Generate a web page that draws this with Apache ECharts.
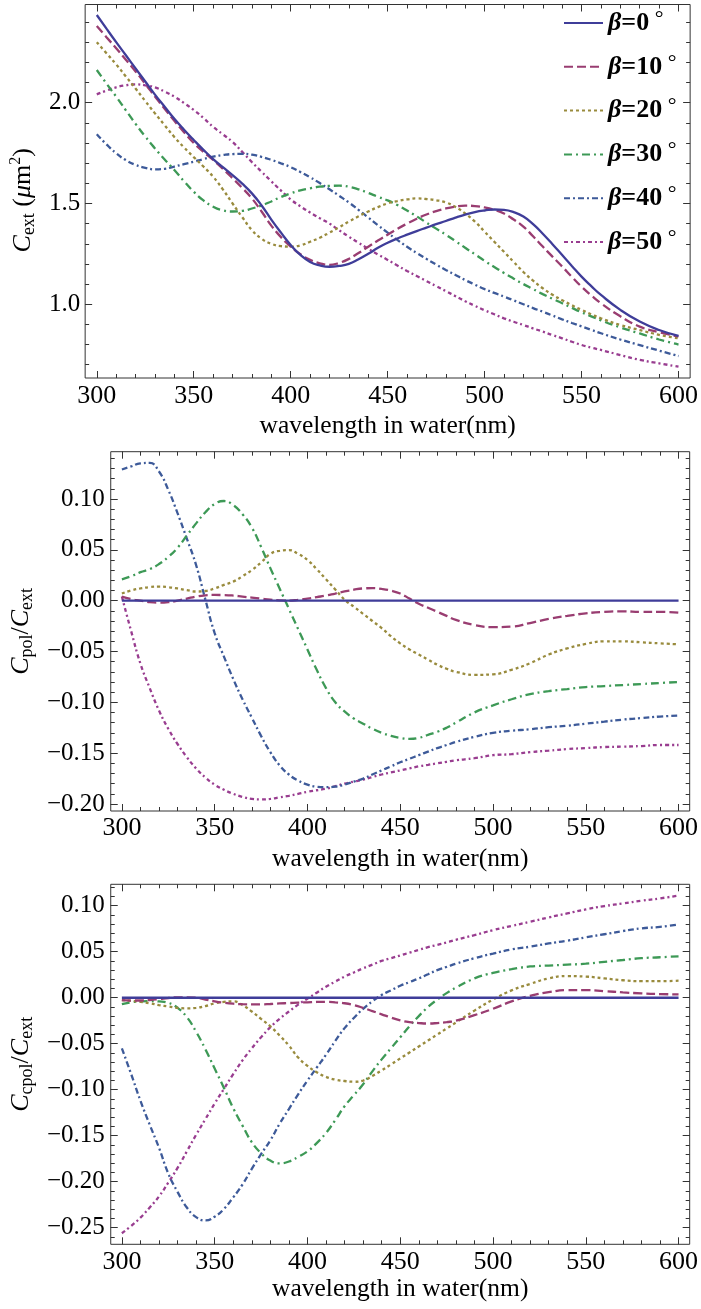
<!DOCTYPE html>
<html>
<head>
<meta charset="utf-8">
<script src="https://cdn.jsdelivr.net/npm/echarts@6/dist/echarts.min.js"></script>
<style>
  html, body { margin: 0; padding: 0; background: #fff; }
  #chart { width: 701px; height: 1309px; }
</style>
</head>
<body>
<div id="chart"></div>
<script>
// Wavelength in water (nm): 5 nm steps where the curves bend, 10 nm steps in the smooth tails
const wavelengthExt = [300, 305, 310, 315, 320, 325, 330, 335, 340, 345,
                       350, 355, 360, 365, 370, 375, 380, 385, 390, 395,
                       400, 405, 410, 415, 420, 425, 430, 435, 440, 445,
                       450, 455, 460, 465, 470, 475, 480, 485, 490, 495,
                       500, 505, 510, 515, 520, 525, 530, 535, 540, 545,
                       550, 555, 560, 570, 580, 590, 600];
const wavelengthFine = [300, 305, 310, 315, 320, 325, 330, 335, 340, 345,
                        350, 355, 360, 365, 370, 375, 380, 385, 390, 395,
                        400, 405, 410, 415, 420, 425, 430, 435, 440, 445,
                        450, 455, 460, 465, 470, 475, 480,
                        490, 500, 510, 520, 530, 540, 550, 560, 570, 580, 590, 600];

const betaNames = ['β=0 °', 'β=10 °', 'β=20 °', 'β=30 °', 'β=40 °', 'β=50 °'];

// Panel 1: extinction cross section C_ext (µm²), on wavelengthExt
const ext_b0  = [2.435, 2.367, 2.30, 2.235, 2.17, 2.105, 2.04, 1.98, 1.92, 1.866,
                 1.815, 1.766, 1.72, 1.68, 1.64, 1.598, 1.55, 1.49, 1.42, 1.355,
                 1.294, 1.245, 1.21, 1.193, 1.186, 1.19, 1.20, 1.223, 1.25, 1.28,
                 1.305, 1.326, 1.345, 1.363, 1.38, 1.397, 1.413, 1.43, 1.445, 1.457,
                 1.465, 1.47, 1.468, 1.457, 1.435, 1.397, 1.35, 1.298, 1.244, 1.19,
                 1.137, 1.09, 1.046, 0.972, 0.914, 0.872, 0.843];
const ext_b10 = [2.38, 2.325, 2.27, 2.213, 2.155, 2.093, 2.03, 1.97, 1.91, 1.853,
                 1.80, 1.756, 1.716, 1.672, 1.625, 1.577, 1.525, 1.46, 1.39, 1.333,
                 1.286, 1.248, 1.22, 1.203, 1.195, 1.205, 1.225, 1.254, 1.285, 1.316,
                 1.345, 1.374, 1.40, 1.424, 1.445, 1.462, 1.475, 1.484, 1.489, 1.487,
                 1.48, 1.468, 1.45, 1.42, 1.385, 1.337, 1.286, 1.236, 1.187, 1.136,
                 1.087, 1.044, 1.005, 0.94, 0.889, 0.861, 0.84];
const ext_b20 = [2.30, 2.245, 2.19, 2.13, 2.07, 2.008, 1.947, 1.888, 1.83, 1.778,
                 1.73, 1.683, 1.633, 1.57, 1.50, 1.432, 1.368, 1.325, 1.30, 1.288,
                 1.286, 1.292, 1.31, 1.33, 1.355, 1.382, 1.41, 1.436, 1.46, 1.482,
                 1.50, 1.512, 1.52, 1.525, 1.522, 1.516, 1.505, 1.482, 1.45, 1.41,
                 1.36, 1.31, 1.26, 1.21, 1.16, 1.117, 1.079, 1.047, 1.02, 0.995,
                 0.972, 0.95, 0.93, 0.897, 0.872, 0.848, 0.831];
const ext_b30 = [2.162, 2.095, 2.03, 1.962, 1.895, 1.832, 1.773, 1.718, 1.666, 1.61,
                 1.558, 1.515, 1.484, 1.466, 1.46, 1.463, 1.475, 1.49, 1.51, 1.532,
                 1.55, 1.565, 1.575, 1.583, 1.587, 1.588, 1.583, 1.57, 1.552, 1.533,
                 1.515, 1.492, 1.465, 1.436, 1.405, 1.375, 1.345, 1.313, 1.28, 1.248,
                 1.215, 1.185, 1.155, 1.127, 1.10, 1.075, 1.05, 1.027, 1.005, 0.982,
                 0.96, 0.94, 0.92, 0.885, 0.855, 0.825, 0.80];
const ext_b40 = [1.843, 1.793, 1.749, 1.715, 1.691, 1.677, 1.669, 1.672, 1.683, 1.695,
                 1.707, 1.72, 1.732, 1.74, 1.745, 1.746, 1.742, 1.731, 1.716, 1.699,
                 1.68, 1.656, 1.63, 1.601, 1.57, 1.538, 1.505, 1.468, 1.43, 1.392,
                 1.355, 1.319, 1.285, 1.254, 1.225, 1.197, 1.17, 1.145, 1.12, 1.097,
                 1.075, 1.056, 1.038, 1.019, 1.0, 0.981, 0.963, 0.944, 0.925, 0.907,
                 0.89, 0.873, 0.856, 0.825, 0.797, 0.77, 0.743];
const ext_b50 = [2.041, 2.06, 2.076, 2.086, 2.091, 2.086, 2.076, 2.055, 2.03, 1.998,
                 1.964, 1.924, 1.88, 1.843, 1.805, 1.756, 1.705, 1.657, 1.61, 1.564,
                 1.52, 1.486, 1.455, 1.427, 1.40, 1.367, 1.335, 1.305, 1.275, 1.247,
                 1.22, 1.192, 1.165, 1.14, 1.115, 1.09, 1.065, 1.04, 1.015, 0.992,
                 0.97, 0.95, 0.93, 0.913, 0.897, 0.88, 0.864, 0.847, 0.831, 0.814,
                 0.798, 0.785, 0.773, 0.748, 0.724, 0.707, 0.69];

// Panel 2: C_pol / C_ext, on wavelengthFine
const pol_b0  = [0, 0, 0, 0, 0, 0, 0, 0, 0, 0, 0, 0, 0, 0, 0, 0, 0, 0, 0, 0, 0, 0, 0, 0, 0,
                 0, 0, 0, 0, 0, 0, 0, 0, 0, 0, 0, 0, 0, 0, 0, 0, 0, 0, 0, 0, 0, 0, 0, 0];
const pol_b10 = [0.004, 0.0015, 0.0, -0.0015, -0.002, -0.0015, 0.0, 0.002, 0.004, 0.0052,
                 0.0056, 0.0055, 0.005, 0.004, 0.003, 0.002, 0.001, 0.0003, 0.0, 0.0008,
                 0.002, 0.0035, 0.005, 0.007, 0.009, 0.0108, 0.012, 0.0123, 0.0115, 0.0098,
                 0.007, 0.002, -0.003, -0.007, -0.011, -0.015, -0.019,
                 -0.024, -0.026, -0.0256, -0.022, -0.018, -0.015, -0.0125, -0.011, -0.0105, -0.011, -0.011, -0.0118];
const pol_b20 = [0.007, 0.010, 0.012, 0.0133, 0.0138, 0.0132, 0.012, 0.0103, 0.009, 0.0095,
                 0.012, 0.0155, 0.0187, 0.024, 0.030, 0.0375, 0.046, 0.049, 0.0497, 0.046,
                 0.040, 0.031, 0.021, 0.011, 0.001, -0.006, -0.013, -0.020, -0.027, -0.035,
                 -0.042, -0.048, -0.053, -0.058, -0.063, -0.067, -0.070,
                 -0.073, -0.0725, -0.068, -0.0616, -0.053, -0.047, -0.0426, -0.040, -0.040, -0.041, -0.042, -0.043];
const pol_b30 = [0.021, 0.024, 0.028, 0.031, 0.036, 0.043, 0.052, 0.064, 0.076, 0.087,
                 0.095, 0.098, 0.094, 0.085, 0.072, 0.053, 0.032, 0.012, -0.008, -0.028,
                 -0.048, -0.068, -0.086, -0.100, -0.109, -0.116, -0.121, -0.126, -0.130, -0.133,
                 -0.135, -0.136, -0.135, -0.132, -0.129, -0.125, -0.120,
                 -0.110, -0.103, -0.097, -0.092, -0.089, -0.087, -0.085, -0.084, -0.083, -0.082, -0.081, -0.080];
const pol_b40 = [0.129, 0.132, 0.135, 0.1355, 0.127, 0.109, 0.086, 0.061, 0.035, 0.001,
                 -0.032, -0.055, -0.077, -0.097, -0.115, -0.133, -0.149, -0.162, -0.171, -0.177,
                 -0.181, -0.183, -0.1835, -0.183, -0.181, -0.178, -0.175, -0.171, -0.167, -0.163,
                 -0.159, -0.1555, -0.152, -0.1485, -0.145, -0.142, -0.139,
                 -0.134, -0.130, -0.128, -0.1265, -0.1245, -0.123, -0.121, -0.119, -0.117, -0.1155, -0.114, -0.113];
const pol_b50 = [0.004, -0.030, -0.062, -0.086, -0.108, -0.126, -0.141, -0.154, -0.165, -0.174,
                 -0.181, -0.186, -0.190, -0.193, -0.195, -0.1955, -0.195, -0.1935, -0.192, -0.190,
                 -0.188, -0.1865, -0.185, -0.1825, -0.180, -0.178, -0.176, -0.1735, -0.171, -0.169,
                 -0.167, -0.165, -0.163, -0.1615, -0.160, -0.1585, -0.157,
                 -0.155, -0.152, -0.151, -0.149, -0.1475, -0.146, -0.145, -0.144, -0.1436, -0.143, -0.142, -0.142];

// Panel 3: C_cpol / C_ext, on wavelengthFine
const cpol_b0  = [0, 0, 0, 0, 0, 0, 0, 0, 0, 0, 0, 0, 0, 0, 0, 0, 0, 0, 0, 0, 0, 0, 0, 0, 0,
                  0, 0, 0, 0, 0, 0, 0, 0, 0, 0, 0, 0, 0, 0, 0, 0, 0, 0, 0, 0, 0, 0, 0, 0];
const cpol_b10 = [-0.0025, -0.003, -0.003, -0.0025, -0.0015, -0.0003, 0.0005, 0.0005, 0.0, -0.002,
                  -0.004, -0.0055, -0.0065, -0.007, -0.0072, -0.0072, -0.0068, -0.0062, -0.0058, -0.0053,
                  -0.005, -0.0046, -0.0045, -0.005, -0.006, -0.008, -0.011, -0.0145, -0.018, -0.0215,
                  -0.0245, -0.0265, -0.0275, -0.028, -0.0275, -0.0265, -0.025,
                  -0.019, -0.012, -0.004, 0.002, 0.006, 0.0083, 0.0083, 0.0072, 0.0058, 0.0047, 0.004, 0.0036];
const cpol_b20 = [-0.0025, -0.0035, -0.0045, -0.006, -0.008, -0.0095, -0.011, -0.0115, -0.011, -0.009,
                  -0.006, -0.0045, -0.004, -0.008, -0.015, -0.023, -0.031, -0.041, -0.052, -0.065,
                  -0.074, -0.081, -0.086, -0.089, -0.0905, -0.0913, -0.090, -0.085, -0.079, -0.0725,
                  -0.066, -0.0595, -0.053, -0.0465, -0.040, -0.0335, -0.027,
                  -0.014, -0.002, 0.008, 0.015, 0.021, 0.0235, 0.023, 0.021, 0.019, 0.018, 0.018, 0.0185];
const cpol_b30 = [-0.007, -0.005, -0.004, -0.0036, -0.004, -0.0055, -0.011, -0.021, -0.037, -0.056,
                  -0.077, -0.098, -0.120, -0.139, -0.157, -0.169, -0.177, -0.180, -0.178, -0.173,
                  -0.167, -0.158, -0.147, -0.133, -0.118, -0.106, -0.094, -0.080, -0.067, -0.055,
                  -0.043, -0.031, -0.020, -0.010, -0.002, 0.005, 0.011,
                  0.021, 0.027, 0.031, 0.034, 0.035, 0.036, 0.037, 0.039, 0.041, 0.043, 0.044, 0.045];
const cpol_b40 = [-0.055, -0.083, -0.112, -0.138, -0.163, -0.191, -0.211, -0.228, -0.2385, -0.242,
                  -0.238, -0.2295, -0.217, -0.203, -0.186, -0.170, -0.155, -0.137, -0.121, -0.105,
                  -0.090, -0.076, -0.062, -0.047, -0.033, -0.022, -0.012, -0.004, 0.003, 0.008,
                  0.013, 0.017, 0.021, 0.0255, 0.030, 0.0335, 0.037,
                  0.043, 0.048, 0.0525, 0.0555, 0.059, 0.062, 0.0656, 0.069, 0.0725, 0.0754, 0.077, 0.0797];
const cpol_b50 = [-0.256, -0.248, -0.239, -0.228, -0.216, -0.201, -0.185, -0.167, -0.149, -0.132,
                  -0.115, -0.099, -0.083, -0.068, -0.055, -0.043, -0.032, -0.023, -0.015, -0.0075,
                  -0.001, 0.0055, 0.012, 0.0175, 0.023, 0.0275, 0.032, 0.036, 0.040, 0.043,
                  0.046, 0.049, 0.052, 0.055, 0.0575, 0.060, 0.063,
                  0.068, 0.0735, 0.078, 0.0826, 0.0873, 0.0917, 0.096, 0.0996, 0.1025, 0.1054, 0.108, 0.111];

// Tick positions (labelled majors and unlabelled minors)
const xMajorTicks = [300, 350, 400, 450, 500, 550, 600];
const xMinorTicks = [300, 310, 320, 330, 340, 350, 360, 370, 380, 390, 400, 410, 420, 430, 440, 450,
                     460, 470, 480, 490, 500, 510, 520, 530, 540, 550, 560, 570, 580, 590, 600];
const extMajorTicks = [1.0, 1.5, 2.0];
const extMinorTicks = [0.7, 0.8, 0.9, 1.0, 1.1, 1.2, 1.3, 1.4, 1.5, 1.6, 1.7, 1.8, 1.9, 2.0, 2.1, 2.2, 2.3, 2.4];
const polMajorTicks = [-0.20, -0.15, -0.10, -0.05, 0.00, 0.05, 0.10];
const polMinorTicks = [-0.20, -0.19, -0.18, -0.17, -0.16, -0.15, -0.14, -0.13, -0.12, -0.11, -0.10, -0.09, -0.08, -0.07, -0.06,
                       -0.05, -0.04, -0.03, -0.02, -0.01, 0.00, 0.01, 0.02, 0.03, 0.04, 0.05, 0.06, 0.07, 0.08, 0.09, 0.10,
                       0.11, 0.12, 0.13, 0.14];
const cpolMajorTicks = [-0.25, -0.20, -0.15, -0.10, -0.05, 0.00, 0.05, 0.10];
const cpolMinorTicks = [-0.26, -0.25, -0.24, -0.23, -0.22, -0.21, -0.20, -0.19, -0.18, -0.17, -0.16, -0.15, -0.14, -0.13, -0.12,
                        -0.11, -0.10, -0.09, -0.08, -0.07, -0.06, -0.05, -0.04, -0.03, -0.02, -0.01, 0.00, 0.01, 0.02, 0.03,
                        0.04, 0.05, 0.06, 0.07, 0.08, 0.09, 0.10, 0.11, 0.12];

const panels = [
  { x: wavelengthExt, series: [ext_b0, ext_b10, ext_b20, ext_b30, ext_b40, ext_b50], yMin: 0.634, yMax: 2.487,
    yMajor: extMajorTicks, yMinor: extMinorTicks, digits: 1 },
  { x: wavelengthFine, series: [pol_b0, pol_b10, pol_b20, pol_b30, pol_b40, pol_b50], yMin: -0.2069, yMax: 0.1465,
    yMajor: polMajorTicks, yMinor: polMinorTicks, digits: 2 },
  { x: wavelengthFine, series: [cpol_b0, cpol_b10, cpol_b20, cpol_b30, cpol_b40, cpol_b50], yMin: -0.268, yMax: 0.1233,
    yMajor: cpolMajorTicks, yMinor: cpolMinorTicks, digits: 2 }
];

const X_MIN = 294, X_MAX = 606;
const SERIF = 'Liberation Serif';
const FRAME = '#333333';
const colors = ['#3f3d99', '#993d71', '#998b3d', '#3d9956', '#3d5a99', '#993d90'];
const dashes = ['solid', [9, 4], [3, 3], [8, 4, 2, 4], [6, 3, 2, 3], [4, 3, 2, 3]];

const grids = [
  { left: 85,    top: 4.5,   width: 605.7, height: 373.5 },
  { left: 108.3, top: 451.7, width: 582,   height: 359.3 },
  { left: 108.3, top: 884.3, width: 582,   height: 360 }
];
const xLabelMargin = [5, 4, 5];
const xNameGap = [35, 35, 32];
const yLabelMargin = [5, 6, 6];
const yNameGap = [41, 70, 70];
const yNamePadding = [[0, 18, 0, 0], 0, 0];
const yNames = [
  '{i|C}{s|ext}{r| (}{i|μ}{r|m}{p|2}{r|)}',
  '{i|C}{s|pol}{r|/}{i|C}{s|ext}',
  '{i|C}{s|cpol}{r|/}{i|C}{s|ext}'
];
const nameRich = {
  i: { fontFamily: SERIF, fontStyle: 'italic', fontSize: 26, lineHeight: 30, color: '#000' },
  r: { fontFamily: SERIF, fontSize: 26, lineHeight: 30, color: '#000' },
  s: { fontFamily: SERIF, fontSize: 18, lineHeight: 12, verticalAlign: 'bottom', color: '#000' },
  p: { fontFamily: SERIF, fontSize: 16, lineHeight: 16, verticalAlign: 'top', color: '#000' }
};

function fmt(digits) {
  return function (v) {
    const s = Math.abs(v).toFixed(digits);
    return (v < -1e-9 ? '\u2212' : '') + s;
  };
}

const xAxes = [], yAxes = [], series = [];
const tickStyle = { color: FRAME, width: 1 };

grids.forEach(function (g, gi) {
  const p = panels[gi];
  const xBase = { type: 'value', gridIndex: gi, min: X_MIN, max: X_MAX,
                  axisLine: { show: false, onZero: false }, splitLine: { show: false } };
  const xMain = xAxes.length;
  xAxes.push(Object.assign({}, xBase, {
    position: 'bottom',
    axisTick: { show: true, inside: true, length: 7, customValues: xMajorTicks, lineStyle: tickStyle },
    axisLabel: { show: true, customValues: xMajorTicks, margin: xLabelMargin[gi], color: '#000',
                 fontFamily: SERIF, fontSize: 26 },
    name: 'wavelength in water(nm)', nameLocation: 'middle', nameGap: xNameGap[gi],
    nameTextStyle: { fontFamily: SERIF, fontSize: 25.5, color: '#000' }
  }));
  xAxes.push(Object.assign({}, xBase, { position: 'bottom', axisLabel: { show: false },
    axisTick: { show: true, inside: true, length: 4, customValues: xMinorTicks, lineStyle: tickStyle } }));
  xAxes.push(Object.assign({}, xBase, { position: 'top', axisLabel: { show: false },
    axisTick: { show: true, inside: true, length: 7, customValues: xMajorTicks, lineStyle: tickStyle } }));
  xAxes.push(Object.assign({}, xBase, { position: 'top', axisLabel: { show: false },
    axisTick: { show: true, inside: true, length: 4, customValues: xMinorTicks, lineStyle: tickStyle } }));

  const yBase = { type: 'value', gridIndex: gi, min: p.yMin, max: p.yMax,
                  axisLine: { show: false, onZero: false }, splitLine: { show: false } };
  const yMain = yAxes.length;
  yAxes.push(Object.assign({}, yBase, {
    position: 'left',
    axisTick: { show: true, inside: true, length: 7, customValues: p.yMajor, lineStyle: tickStyle },
    axisLabel: { show: true, customValues: p.yMajor, margin: yLabelMargin[gi], color: '#000',
                 fontFamily: SERIF, fontSize: 25, formatter: fmt(p.digits) },
    name: yNames[gi], nameLocation: 'middle', nameRotate: 90, nameGap: yNameGap[gi],
    nameTextStyle: { rich: nameRich, padding: yNamePadding[gi] }
  }));
  yAxes.push(Object.assign({}, yBase, { position: 'left', axisLabel: { show: false },
    axisTick: { show: true, inside: true, length: 4, customValues: p.yMinor, lineStyle: tickStyle } }));
  yAxes.push(Object.assign({}, yBase, { position: 'right', axisLabel: { show: false },
    axisTick: { show: true, inside: true, length: 7, customValues: p.yMajor, lineStyle: tickStyle } }));
  yAxes.push(Object.assign({}, yBase, { position: 'right', axisLabel: { show: false },
    axisTick: { show: true, inside: true, length: 4, customValues: p.yMinor, lineStyle: tickStyle } }));

  p.series.forEach(function (vals, si) {
    series.push({
      type: 'line',
      name: betaNames[si],
      xAxisIndex: xMain,
      yAxisIndex: yMain,
      data: p.x.map(function (w, k) { return [w, vals[k]]; }),
      smooth: 0.5,
      symbol: 'none',
      showSymbol: false,
      color: colors[si],
      lineStyle: { color: colors[si], width: 2.3, type: dashes[si] },
      z: 10 - si
    });
  });
});

const legendRich = {
  b: { fontFamily: SERIF, fontStyle: 'italic', fontWeight: 'bold', fontSize: 26, lineHeight: 30, color: '#000' },
  e: { fontFamily: SERIF, fontWeight: 'bold', fontSize: 26, lineHeight: 30, color: '#000' },
  d: { fontFamily: SERIF, fontSize: 22, lineHeight: 30, color: '#000', verticalAlign: 'top' }
};

const chart = echarts.init(document.getElementById('chart'), null, { renderer: 'canvas' });
chart.setOption({
  animation: false,
  backgroundColor: '#fff',
  grid: grids.map(function (g) {
    return Object.assign({ show: true, borderColor: FRAME, borderWidth: 1, backgroundColor: 'transparent' }, g);
  }),
  xAxis: xAxes,
  yAxis: yAxes,
  legend: {
    orient: 'vertical',
    left: 558,
    top: 3,
    itemWidth: 39,
    itemHeight: 14,
    itemGap: 13.8,
    selectedMode: false,
    data: betaNames,
    itemStyle: { opacity: 0 },
    formatter: function (name) {
      const n = name.replace('β=', '').replace(' °', '');
      return '{b|β}{e|=' + n + '}{d| °}';
    },
    textStyle: { rich: legendRich, lineHeight: 30 }
  },
  series: series
});
</script>
</body>
</html>
